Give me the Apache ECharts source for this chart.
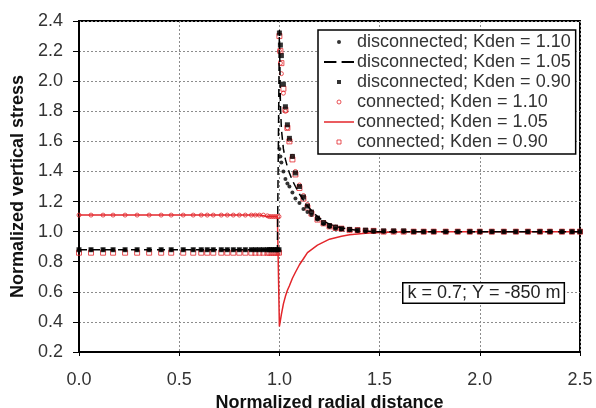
<!DOCTYPE html>
<html>
<head>
<meta charset="utf-8">
<script src="https://cdn.jsdelivr.net/npm/echarts@6/dist/echarts.min.js"></script>
<style>
  html, body { margin: 0; padding: 0; background: #fff; }
  #chart { width: 596px; height: 408px; }
</style>
</head>
<body>
<div id="chart"></div>
<script>
// radial positions (normalized), inside and outside the boundary r = 1
var rIn = [0, 0.06, 0.12, 0.17, 0.23, 0.29, 0.35, 0.41, 0.46, 0.52, 0.57, 0.61, 0.64, 0.67, 0.71,
    0.74, 0.77, 0.8, 0.83, 0.86, 0.88, 0.9, 0.92, 0.94, 0.95, 0.96, 0.97, 0.98, 0.99, 0.998];
var rOut = [1.0, 1.005, 1.01, 1.02, 1.03, 1.04, 1.05, 1.065, 1.08, 1.1, 1.12, 1.14, 1.16, 1.19, 1.22,
    1.25, 1.28, 1.31, 1.35, 1.39, 1.43, 1.47, 1.52, 1.57, 1.62, 1.67, 1.72, 1.77, 1.83, 1.89,
    1.95, 2.0, 2.06, 2.12, 2.18, 2.24, 2.3, 2.35, 2.41, 2.46, 2.5];

// disconnected; Kden = 1.10
var disc110 = [0.88, 0.88, 0.88, 0.88, 0.88, 0.88, 0.88, 0.88, 0.88, 0.88, 0.88, 0.88, 0.88, 0.88, 0.88,
    0.88, 0.88, 0.88, 0.88, 0.88, 0.88, 0.88, 0.88, 0.88, 0.88, 0.88, 0.88, 0.88, 0.88, 0.88,
    1.55, 1.50, 1.46, 1.40, 1.35, 1.32, 1.30, 1.26, 1.22, 1.19, 1.15, 1.13, 1.11, 1.08, 1.05,
    1.03, 1.02, 1.015, 1.01, 1.005, 1.0, 1.0, 1.0, 1.0, 1.0, 1.0, 1.0, 1.0, 1.0, 1.0,
    1.0, 1.0, 1.0, 1.0, 1.0, 1.0, 1.0, 1.0, 1.0, 1.0, 1.0];
// disconnected; Kden = 1.05
var disc105 = [0.88, 0.88, 0.88, 0.88, 0.88, 0.88, 0.88, 0.88, 0.88, 0.88, 0.88, 0.88, 0.88, 0.88, 0.88,
    0.88, 0.88, 0.88, 0.88, 0.88, 0.88, 0.88, 0.88, 0.88, 0.88, 0.88, 0.88, 0.88, 0.88, 0.88,
    2.34, 1.85, 1.68, 1.55, 1.48, 1.43, 1.39, 1.34, 1.30, 1.25, 1.21, 1.17, 1.14, 1.10, 1.07,
    1.05, 1.035, 1.025, 1.015, 1.01, 1.005, 1.0, 1.0, 1.0, 1.0, 1.0, 1.0, 1.0, 1.0, 1.0,
    1.0, 1.0, 1.0, 1.0, 1.0, 1.0, 1.0, 1.0, 1.0, 1.0, 1.0];
// disconnected; Kden = 0.90
var disc090 = [0.88, 0.88, 0.88, 0.88, 0.88, 0.88, 0.88, 0.88, 0.88, 0.88, 0.88, 0.88, 0.88, 0.88, 0.88,
    0.88, 0.88, 0.88, 0.88, 0.88, 0.88, 0.88, 0.88, 0.88, 0.88, 0.88, 0.88, 0.88, 0.88, 0.88,
    2.32, 2.24, 2.17, 1.98, 1.83, 1.71, 1.62, 1.50, 1.39, 1.30, 1.23, 1.17, 1.13, 1.09, 1.06,
    1.04, 1.03, 1.02, 1.015, 1.01, 1.01, 1.005, 1.005, 1.005, 1.005, 1.0, 1.0, 1.0, 1.0, 1.0,
    1.0, 1.0, 1.0, 1.0, 1.0, 1.0, 1.0, 1.0, 1.0, 1.0, 1.0];
// connected; Kden = 1.10
var conn110 = [1.11, 1.11, 1.11, 1.11, 1.11, 1.11, 1.11, 1.11, 1.11, 1.11, 1.11, 1.11, 1.11, 1.11, 1.11,
    1.11, 1.11, 1.11, 1.11, 1.11, 1.11, 1.11, 1.11, 1.105, 1.10, 1.10, 1.10, 1.10, 1.10, 1.10,
    2.20, 2.12, 2.05, 1.92, 1.80, 1.69, 1.61, 1.50, 1.40, 1.31, 1.24, 1.18, 1.13, 1.09, 1.06,
    1.04, 1.03, 1.02, 1.015, 1.01, 1.005, 1.005, 1.0, 1.0, 1.0, 1.0, 1.0, 1.0, 1.0, 1.0,
    1.0, 1.0, 1.0, 1.0, 1.0, 1.0, 1.0, 1.0, 1.0, 1.0, 1.0];
// connected; Kden = 1.05
var conn105 = [1.11, 1.11, 1.11, 1.11, 1.11, 1.11, 1.11, 1.11, 1.11, 1.11, 1.11, 1.11, 1.11, 1.11, 1.11,
    1.11, 1.11, 1.11, 1.11, 1.11, 1.11, 1.11, 1.105, 1.10, 1.10, 1.10, 1.10, 1.10, 1.10, 1.10,
    0.37, 0.41, 0.45, 0.52, 0.57, 0.61, 0.64, 0.69, 0.73, 0.78, 0.82, 0.86, 0.88, 0.91, 0.93,
    0.95, 0.96, 0.97, 0.98, 0.985, 0.99, 0.993, 0.995, 0.997, 0.998, 0.999, 1.0, 1.0, 1.0, 1.0,
    1.0, 1.0, 1.0, 1.0, 1.0, 1.0, 1.0, 1.0, 1.0, 1.0, 1.0];
// connected; Kden = 0.90
var conn090 = [0.86, 0.86, 0.86, 0.86, 0.86, 0.86, 0.86, 0.86, 0.86, 0.86, 0.86, 0.86, 0.86, 0.86, 0.86,
    0.86, 0.86, 0.86, 0.86, 0.86, 0.86, 0.86, 0.86, 0.86, 0.86, 0.86, 0.86, 0.86, 0.86, 0.86,
    2.30, 2.20, 2.12, 1.95, 1.81, 1.69, 1.60, 1.48, 1.38, 1.29, 1.22, 1.16, 1.12, 1.08, 1.055,
    1.035, 1.025, 1.02, 1.01, 1.01, 1.005, 1.005, 1.0, 1.0, 1.0, 1.0, 1.0, 1.0, 1.0, 1.0,
    1.0, 1.0, 1.0, 1.0, 1.0, 1.0, 1.0, 1.0, 1.0, 1.0, 1.0];

var seriesNames = ["disconnected; Kden = 1.10", "disconnected; Kden = 1.05", "disconnected; Kden = 0.90",
    "connected; Kden = 1.10", "connected; Kden = 1.05", "connected; Kden = 0.90"];
var xTicks = [0.0, 0.5, 1.0, 1.5, 2.0, 2.5];
var yTicks = [0.2, 0.4, 0.6, 0.8, 1.0, 1.2, 1.4, 1.6, 1.8, 2.0, 2.2, 2.4];

(function () {
    var FONT = "Liberation Sans, Arial, sans-serif";
    var RED = "#e3262b";
    var r = rIn.concat(rOut);

    function pairs(vals) {
        return r.map(function (x, i) { return [x, vals[i]]; });
    }

    var myChart = echarts.init(document.getElementById("chart"), null, { renderer: "canvas" });
    var gridLine = { show: true, lineStyle: { color: "#8c8c8c", type: [2, 2], width: 1 } };

    // legend icons drawn by hand so they look like the spreadsheet legend
    var SQUARE = "path://M0,0h1v1h-1z";
    var DASHES = "path://M0,0h12v2h-12z M17,0h12v2h-12z";
    var BAR = "path://M0,0h30v1.5h-30z";

    var option = {
        animation: false,
        backgroundColor: "#fff",
        textStyle: { fontFamily: FONT },
        grid: {
            left: 79, right: 16, top: 21, bottom: 56,
            outerBoundsMode: "none",
            containLabel: false,
            show: true, borderColor: "#000", borderWidth: 2, backgroundColor: "transparent"
        },
        xAxis: {
            type: "value",
            min: xTicks[0], max: xTicks[xTicks.length - 1], interval: xTicks[1] - xTicks[0],
            name: "Normalized radial distance",
            nameLocation: "middle", nameGap: 38,
            nameTextStyle: { fontFamily: FONT, fontSize: 18, fontWeight: "bold", color: "#111" },
            axisLine: { lineStyle: { color: "#000", width: 2 } },
            axisTick: { show: true, length: 4, lineStyle: { color: "#000" } },
            axisLabel: {
                margin: 19, fontSize: 18, color: "#333", fontFamily: FONT,
                formatter: function (v) { return v.toFixed(1); }
            },
            splitLine: gridLine
        },
        yAxis: {
            type: "value",
            min: yTicks[0], max: yTicks[yTicks.length - 1], interval: 0.2,
            name: "Normalized vertical stress",
            nameLocation: "middle", nameGap: 52,
            nameTextStyle: { fontFamily: FONT, fontSize: 18, fontWeight: "bold", color: "#111" },
            axisLine: { lineStyle: { color: "#000", width: 2 } },
            axisTick: { show: true, length: 6, lineStyle: { color: "#000" } },
            axisLabel: {
                margin: 16, fontSize: 18, color: "#333", fontFamily: FONT,
                formatter: function (v) { return v.toFixed(1); }
            },
            splitLine: gridLine
        },
        legend: {
            orient: "vertical",
            left: 318, top: 30,
            padding: [3, 5, 3, 6],
            itemGap: 2,
            itemWidth: 30, itemHeight: 4,
            symbolKeepAspect: true,
            align: "left",
            backgroundColor: "#fff",
            borderColor: "#000", borderWidth: 1.5,
            textStyle: { fontSize: 18, color: "#333", fontFamily: FONT, padding: [0, 0, 0, -2] },
            data: [
                { name: seriesNames[0], icon: "circle", itemStyle: { color: "#000" } },
                { name: seriesNames[1], icon: DASHES, itemStyle: { color: "#000" } },
                { name: seriesNames[2], icon: SQUARE, itemStyle: { color: "#000" } },
                { name: seriesNames[3], icon: "circle",
                    itemStyle: { color: "transparent", borderColor: RED, borderWidth: 1 } },
                { name: seriesNames[4], icon: BAR, itemStyle: { color: RED } },
                { name: seriesNames[5], icon: SQUARE,
                    itemStyle: { color: "transparent", borderColor: RED, borderWidth: 1 } }
            ],
            z: 10
        },
        series: [
            {
                name: seriesNames[0], type: "scatter", data: pairs(disc110),
                symbol: "circle", symbolSize: 4, itemStyle: { color: "#000" }, z: 5
            },
            {
                name: seriesNames[1], type: "line", data: pairs(disc105),
                showSymbol: false, symbol: "none",
                lineStyle: { color: "#000", width: 1.5, type: [8, 5] },
                itemStyle: { color: "#000" }, z: 4
            },
            {
                name: seriesNames[2], type: "scatter", data: pairs(disc090),
                symbol: "rect", symbolSize: 5, itemStyle: { color: "#000" }, z: 5
            },
            {
                name: seriesNames[3], type: "scatter", data: pairs(conn110),
                symbol: "circle", symbolSize: 4,
                itemStyle: { color: "transparent", borderColor: RED, borderWidth: 1 }, z: 3
            },
            {
                name: seriesNames[4], type: "line", data: pairs(conn105),
                showSymbol: false, symbol: "none",
                lineStyle: { color: RED, width: 1.5 },
                itemStyle: { color: RED }, z: 3
            },
            {
                name: seriesNames[5], type: "scatter", data: pairs(conn090),
                symbol: "rect", symbolSize: 5,
                itemStyle: { color: "transparent", borderColor: RED, borderWidth: 1 }, z: 3
            }
        ],
        graphic: [
            {
                type: "text",
                left: 402, top: 282,
                z: 20,
                style: {
                    text: "k = 0.7; Y = -850 m",
                    font: "18px " + FONT,
                    fill: "#222",
                    backgroundColor: "#fff",
                    borderColor: "#000",
                    borderWidth: 1.5,
                    padding: [1, 3, 0, 4]
                }
            }
        ]
    };

    myChart.setOption(option);
    window.addEventListener("resize", function () {
        myChart.resize();
    });
})();
</script>
</body>
</html>
